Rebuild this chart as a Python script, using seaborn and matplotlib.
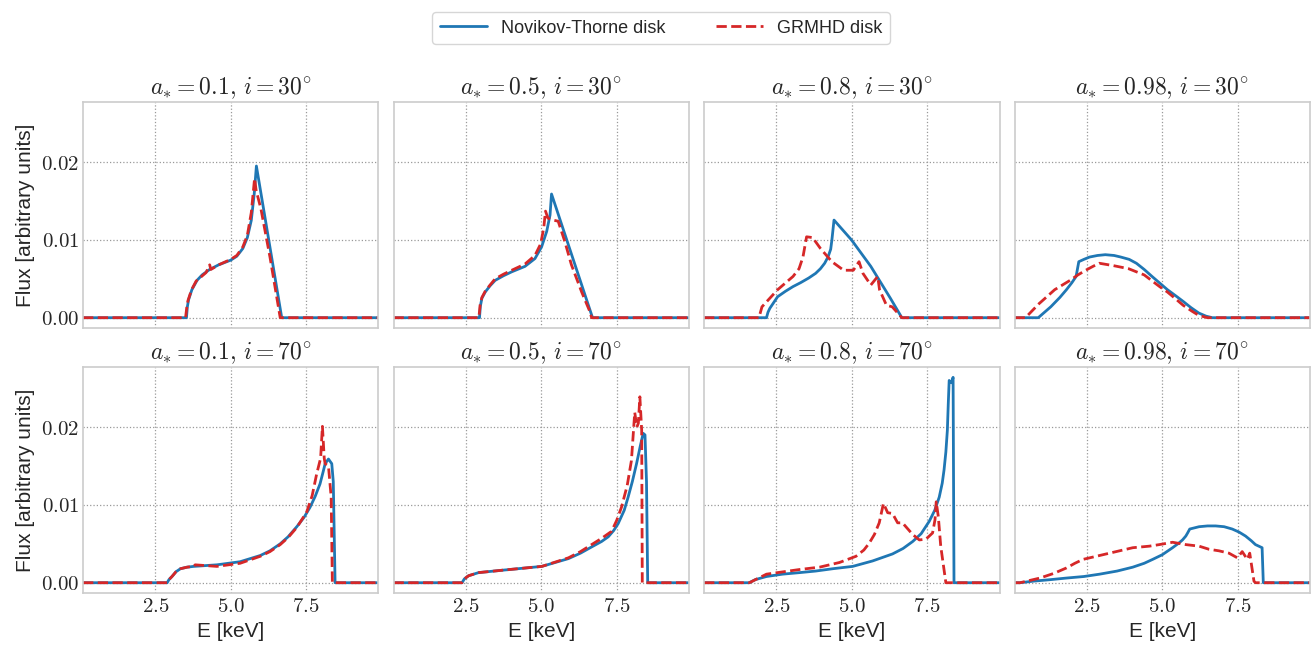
import numpy as np
import matplotlib
matplotlib.use("Agg")
import matplotlib.pyplot as plt
import seaborn as sns
from matplotlib.ticker import FuncFormatter, FixedLocator
from matplotlib.lines import Line2D

# ---------------- data ----------------
spins = ["0.1", "0.5", "0.8", "0.98"]
incls = ["30", "70"]

# Row 1: i = 30 deg
nt_a01_i30_E = [0.1, 3.53, 3.56, 3.6, 3.71, 3.88, 4.05, 4.3, 4.6, 5.0, 5.2, 5.4, 5.55, 5.68, 5.78, 5.85, 6.69, 9.9]
nt_a01_i30_F = [0, 0, 0.0014, 0.0023, 0.0036, 0.0048, 0.0055, 0.0062, 0.0068, 0.0074, 0.0079, 0.0089, 0.0103, 0.0125, 0.0160, 0.0195, 0, 0]
gr_a01_i30_E = [0.1, 3.5, 3.54, 3.58, 3.7, 3.85, 4.0, 4.18, 4.3, 4.34, 4.6, 5.0, 5.2, 5.4, 5.55, 5.68, 5.79, 5.84, 6.0, 6.3, 6.64, 9.9]
gr_a01_i30_F = [0, 0, 0.0013, 0.0022, 0.0036, 0.0047, 0.0052, 0.0058, 0.0068, 0.0062, 0.0068, 0.0075, 0.0080, 0.0091, 0.0106, 0.0135, 0.0179, 0.0164, 0.0140, 0.0078, 0, 0]

nt_a05_i30_E = [0.1, 2.95, 2.98, 3.03, 3.14, 3.3, 3.47, 3.75, 4.02, 4.46, 4.79, 5.01, 5.18, 5.29, 5.34, 6.70, 9.9]
nt_a05_i30_F = [0, 0, 0.0015, 0.0025, 0.0033, 0.0041, 0.0048, 0.0054, 0.0059, 0.0066, 0.0076, 0.0091, 0.0111, 0.0132, 0.0159, 0, 0]
gr_a05_i30_E = [0.1, 2.93, 2.97, 3.03, 3.14, 3.3, 3.47, 3.75, 4.02, 4.46, 4.79, 4.98, 5.08, 5.14, 5.22, 5.34, 5.56, 5.78, 6.0, 6.34, 6.61, 6.67, 9.9]
gr_a05_i30_F = [0, 0, 0.0016, 0.0026, 0.0034, 0.0042, 0.0050, 0.0056, 0.0061, 0.0069, 0.0080, 0.0095, 0.0115, 0.0137, 0.0128, 0.0126, 0.0124, 0.0098, 0.0068, 0.0033, 0.0008, 0, 0]

nt_a08_i30_E = [0.1, 2.17, 2.22, 2.28, 2.54, 2.8, 3.05, 3.3, 3.57, 3.8, 3.96, 4.1, 4.21, 4.3, 4.34, 4.41, 4.99, 5.63, 6.28, 6.66, 9.9]
nt_a08_i30_F = [0, 0, 0.0007, 0.0012, 0.0027, 0.0034, 0.0040, 0.0045, 0.0051, 0.0057, 0.0063, 0.0070, 0.0078, 0.0088, 0.0100, 0.01255, 0.0100, 0.0066, 0.0025, 0, 0]
gr_a08_i30_E = [0.1, 1.92, 2.02, 2.54, 3.05, 3.25, 3.38, 3.5, 3.7, 3.96, 4.34, 4.73, 5.05, 5.24, 5.37, 5.63, 5.86, 5.92, 6.15, 6.34, 6.66, 9.9]
gr_a08_i30_F = [0, 0, 0.0014, 0.0036, 0.0053, 0.0063, 0.0078, 0.0104, 0.0103, 0.0089, 0.0072, 0.0061, 0.0061, 0.0072, 0.0057, 0.0042, 0.0053, 0.0036, 0.0016, 0.0014, 0, 0]

nt_a098_i30_E = [0.1, 0.885, 1.3, 1.6, 1.82, 2.0, 2.14, 2.23, 2.4, 2.59, 2.85, 3.11, 3.4, 3.62, 3.9, 4.14, 4.4, 4.66, 4.9, 5.17, 5.45, 5.69, 5.95, 6.21, 6.45, 6.66, 9.9]
nt_a098_i30_F = [0, 0, 0.0014, 0.0026, 0.0036, 0.0045, 0.0053, 0.0072, 0.0075, 0.0078, 0.0080, 0.0081, 0.0080, 0.0078, 0.0075, 0.0070, 0.0062, 0.0053, 0.0045, 0.0036, 0.0028, 0.0021, 0.0013, 0.0006, 0.0002, 0, 0]
gr_a098_i30_E = [0.1, 0.46, 0.91, 1.2, 1.43, 1.94, 2.2, 2.46, 2.7, 2.91, 3.37, 3.88, 4.4, 4.91, 5.17, 5.45, 5.69, 6.0, 6.21, 6.5, 9.9]
gr_a098_i30_F = [0, 0, 0.0018, 0.0028, 0.0036, 0.0048, 0.0055, 0.0061, 0.0066, 0.0070, 0.0067, 0.0063, 0.0055, 0.0040, 0.0033, 0.0024, 0.0016, 0.0008, 0.0003, 0, 0]

# Row 2: i = 70 deg
nt_a01_i70_E = [0.1, 2.89, 2.95, 3.05, 3.18, 3.33, 3.55, 3.77, 4.54, 5.31, 5.98, 6.3, 6.64, 6.9, 7.19, 7.43, 7.63, 7.8, 7.96, 8.06, 8.13, 8.24, 8.35, 8.4, 8.46, 9.9]
nt_a01_i70_F = [0, 0, 0.0004, 0.0008, 0.0014, 0.0018, 0.0020, 0.0021, 0.0023, 0.0027, 0.0035, 0.0041, 0.0050, 0.0059, 0.0072, 0.0084, 0.0097, 0.0111, 0.0127, 0.0142, 0.0153, 0.0159, 0.0153, 0.0130, 0, 0]
gr_a01_i70_E = [0.1, 2.89, 2.95, 3.05, 3.18, 3.33, 3.55, 3.77, 3.82, 4.54, 5.31, 5.98, 6.3, 6.64, 6.9, 7.19, 7.52, 7.7, 7.85, 7.98, 8.04, 8.1, 8.13, 8.24, 8.33, 8.37, 9.9]
gr_a01_i70_F = [0, 0, 0.0004, 0.0008, 0.0014, 0.0018, 0.0020, 0.0021, 0.0023, 0.0021, 0.0025, 0.0034, 0.0040, 0.0049, 0.0058, 0.0071, 0.0091, 0.0112, 0.0140, 0.0160, 0.0201, 0.0160, 0.0153, 0.0150, 0.0110, 0, 0]

nt_a05_i70_E = [0.1, 2.37, 2.45, 2.59, 2.92, 3.69, 5.02, 5.9, 6.3, 6.67, 7.0, 7.22, 7.4, 7.55, 7.75, 7.88, 8.02, 8.16, 8.28, 8.38, 8.44, 8.49, 8.53, 9.9]
nt_a05_i70_F = [0, 0, 0.0005, 0.0009, 0.0013, 0.0016, 0.0021, 0.0031, 0.0038, 0.0046, 0.0053, 0.0059, 0.0067, 0.0076, 0.0093, 0.0110, 0.0130, 0.0153, 0.0175, 0.0192, 0.0190, 0.0130, 0, 0]
gr_a05_i70_E = [0.1, 2.37, 2.45, 2.59, 2.92, 3.69, 5.02, 5.9, 6.3, 6.67, 7.0, 7.33, 7.5, 7.66, 7.85, 7.99, 8.1, 8.17, 8.22, 8.27, 8.33, 8.35, 9.9]
gr_a05_i70_F = [0, 0, 0.0005, 0.0009, 0.0013, 0.0016, 0.0021, 0.0032, 0.0040, 0.0049, 0.0057, 0.0066, 0.0080, 0.0097, 0.0125, 0.0157, 0.0219, 0.0200, 0.0205, 0.0239, 0.0196, 0, 0]

nt_a08_i70_E = [0.1, 1.6, 1.8, 2.17, 2.7, 3.27, 3.8, 4.37, 5.03, 5.69, 6.35, 6.7, 7.02, 7.3, 7.57, 7.75, 7.9, 8.0, 8.06, 8.12, 8.17, 8.2, 8.23, 8.31, 8.36, 8.39, 9.9]
nt_a08_i70_F = [0, 0, 0.0004, 0.0008, 0.0011, 0.0013, 0.0015, 0.0018, 0.0021, 0.0028, 0.0037, 0.0044, 0.0053, 0.0063, 0.0079, 0.0093, 0.0110, 0.0128, 0.0145, 0.0168, 0.0196, 0.0230, 0.0260, 0.0257, 0.0264, 0, 0]
gr_a08_i70_E = [0.1, 1.6, 2.17, 2.72, 3.27, 3.93, 4.59, 5.14, 5.4, 5.58, 5.75, 5.91, 6.05, 6.19, 6.35, 6.52, 6.68, 7.02, 7.24, 7.46, 7.68, 7.76, 7.8, 7.87, 7.95, 8.12, 9.9]
gr_a08_i70_F = [0, 0, 0.0011, 0.0014, 0.0017, 0.0020, 0.0026, 0.0034, 0.0042, 0.0051, 0.0062, 0.0077, 0.0102, 0.0090, 0.0089, 0.0077, 0.0077, 0.0062, 0.0055, 0.0056, 0.0064, 0.0081, 0.0104, 0.0085, 0.0047, 0, 0]

nt_a098_i70_E = [0.1, 0.28, 0.72, 1.3, 1.82, 2.4, 2.92, 3.5, 4.02, 4.4, 4.68, 5.0, 5.34, 5.55, 5.67, 5.78, 5.84, 5.91, 6.22, 6.5, 6.77, 7.05, 7.32, 7.55, 7.76, 7.95, 8.09, 8.31, 8.35, 9.9]
nt_a098_i70_F = [0, 0, 0.0002, 0.0004, 0.0006, 0.0008, 0.0011, 0.0015, 0.0020, 0.0025, 0.0030, 0.0036, 0.0045, 0.0051, 0.0055, 0.0060, 0.0064, 0.0069, 0.0072, 0.0073, 0.0073, 0.0072, 0.0069, 0.0065, 0.0060, 0.0054, 0.0049, 0.0045, 0, 0]
gr_a098_i70_E = [0.1, 0.28, 0.94, 1.4, 1.82, 2.1, 2.37, 2.92, 3.47, 4.02, 4.57, 4.9, 5.34, 5.78, 6.22, 6.55, 6.88, 7.21, 7.49, 7.65, 7.82, 7.9, 8.04, 8.09, 9.9]
gr_a098_i70_F = [0, 0, 0.0006, 0.0012, 0.0019, 0.0025, 0.0030, 0.0035, 0.0040, 0.0045, 0.0047, 0.0049, 0.0052, 0.0049, 0.0047, 0.0043, 0.0041, 0.0038, 0.0032, 0.0040, 0.0030, 0.0038, 0.0002, 0, 0]

nt_E = [[nt_a01_i30_E, nt_a05_i30_E, nt_a08_i30_E, nt_a098_i30_E],
        [nt_a01_i70_E, nt_a05_i70_E, nt_a08_i70_E, nt_a098_i70_E]]
nt_F = [[nt_a01_i30_F, nt_a05_i30_F, nt_a08_i30_F, nt_a098_i30_F],
        [nt_a01_i70_F, nt_a05_i70_F, nt_a08_i70_F, nt_a098_i70_F]]
gr_E = [[gr_a01_i30_E, gr_a05_i30_E, gr_a08_i30_E, gr_a098_i30_E],
        [gr_a01_i70_E, gr_a05_i70_E, gr_a08_i70_E, gr_a098_i70_E]]
gr_F = [[gr_a01_i30_F, gr_a05_i30_F, gr_a08_i30_F, gr_a098_i30_F],
        [gr_a01_i70_F, gr_a05_i70_F, gr_a08_i70_F, gr_a098_i70_F]]

x_ticks = [2.5, 5.0, 7.5]
y_ticks = [0.00, 0.01, 0.02]
labels = ["Novikov-Thorne disk", "GRMHD disk"]

# ---------------- style ----------------
sns.set_theme(style="whitegrid")
plt.rcParams["font.family"] = ["Liberation Sans", "DejaVu Sans"]
plt.rcParams["mathtext.fontset"] = "cm"
plt.rcParams["axes.edgecolor"] = "#cccccc"
plt.rcParams["axes.linewidth"] = 1.2

BLUE = "#1f77b4"
RED = "#d62728"

fig, axes = plt.subplots(2, 4, figsize=(13.12, 6.5), dpi=100, sharex=True, sharey=True)
fig.subplots_adjust(left=0.0633, right=0.9985, top=0.843, bottom=0.0877, wspace=0.051, hspace=0.173)

for r in range(2):
    for c in range(4):
        ax = axes[r, c]
        sns.lineplot(x=nt_E[r][c], y=nt_F[r][c], ax=ax, color=BLUE, lw=2.0,
                     estimator=None, sort=False, errorbar=None)
        sns.lineplot(x=gr_E[r][c], y=gr_F[r][c], ax=ax, color=RED, lw=2.0,
                     linestyle="--", estimator=None, sort=False, errorbar=None)
        ax.set_title(r"$a_{*} = %s,\, i = %s^{\circ}$" % (spins[c], incls[r]), fontsize=17, pad=6)
        ax.grid(True, color="0.6", linestyle=":", linewidth=0.9)
        ax.set_xlim(0.1, 9.9)
        ax.xaxis.set_major_locator(FixedLocator(x_ticks))
        ax.yaxis.set_major_locator(FixedLocator(y_ticks))
        ax.xaxis.set_major_formatter(FuncFormatter(lambda v, p: r"$%.1f$" % v))
        ax.yaxis.set_major_formatter(FuncFormatter(lambda v, p: r"$%.2f$" % v))
        ax.tick_params(labelsize=15, pad=3, length=0)
        ax.set_xlabel("E [keV]" if r == 1 else "", fontsize=15)
        ax.set_ylabel("Flux [arbitrary units]" if c == 0 else "", fontsize=15)

axes[0, 0].set_ylim(-0.00132, 0.02772)

handles = [Line2D([], [], color=BLUE, lw=2.0), Line2D([], [], color=RED, lw=2.0, linestyle="--")]
fig.legend(handles, labels, loc="upper center", bbox_to_anchor=(0.504, 0.995), ncol=2,
           fontsize=13, frameon=True, columnspacing=2.8, handlelength=2.6)

fig.savefig("out.png", dpi=100)
